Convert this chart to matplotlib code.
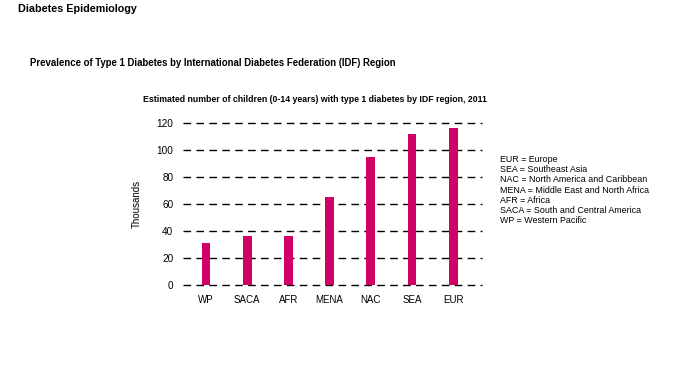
import matplotlib.pyplot as plt

# IDF regions, estimated children (0-14) with type 1 diabetes, 2011 (thousands)
regions = ['WP', 'SACA', 'AFR', 'MENA', 'NAC', 'SEA', 'EUR']
children_k = [31, 36, 36, 65, 95, 112, 116]
yticks = [0, 20, 40, 60, 80, 100, 120]
legend_lines = ['EUR = Europe', 'SEA = Southeast Asia',
                'NAC = North America and Caribbean',
                'MENA = Middle East and North Africa', 'AFR = Africa',
                'SACA = South and Central America', 'WP = Western Pacific']

plt.rcParams['font.family'] = ['Liberation Sans', 'DejaVu Sans']

W, H = 700, 374
fig = plt.figure(figsize=(7, 3.74), dpi=100)
ax = fig.add_axes([183 / W, 1 - 285 / H, (482 - 183) / W, (285 - 122.7) / H])

x = range(len(regions))
ax.bar(x, children_k, width=0.215, color='#cf0066', zorder=3)

ax.set_xlim(-0.56, 6.7)
ax.set_ylim(0, 120)
ax.set_yticks(yticks)
ax.set_xticks(list(x))
ax.set_xticklabels(regions)
for y in yticks:
    ax.axhline(y, color='black', lw=1.0, ls=(0, (5.5, 3.8)), zorder=2, clip_on=False)
for s in ax.spines.values():
    s.set_visible(False)
ax.tick_params(axis='y', length=0, pad=7, labelsize=7.2)
ax.tick_params(axis='x', length=0, pad=7.5, labelsize=7)
ax.set_ylabel('Thousands', fontsize=7)
ax.yaxis.set_label_coords((141.5 - 183) / (482 - 183), 0.5)

fig.text(18 / W, 1 - 11.7 / H, 'Diabetes Epidemiology', fontsize=7.75,
         fontweight='bold', va='baseline')
fig.text(29.5 / W, 1 - 65.5 / H,
         'Prevalence of Type 1 Diabetes by International Diabetes Federation (IDF) Region',
         fontsize=6.9, fontweight='bold', va='baseline')
fig.text(143.3 / W, 1 - 101.5 / H,
         'Estimated number of children (0-14 years) with type 1 diabetes by IDF region, 2011',
         fontsize=6.35, fontweight='bold', va='baseline')

for i, line in enumerate(legend_lines):
    fig.text(500 / W, 1 - (161.7 + i * 10.3) / H, line, fontsize=6.4,
             va='baseline')

fig.savefig('out.png', dpi=100)
